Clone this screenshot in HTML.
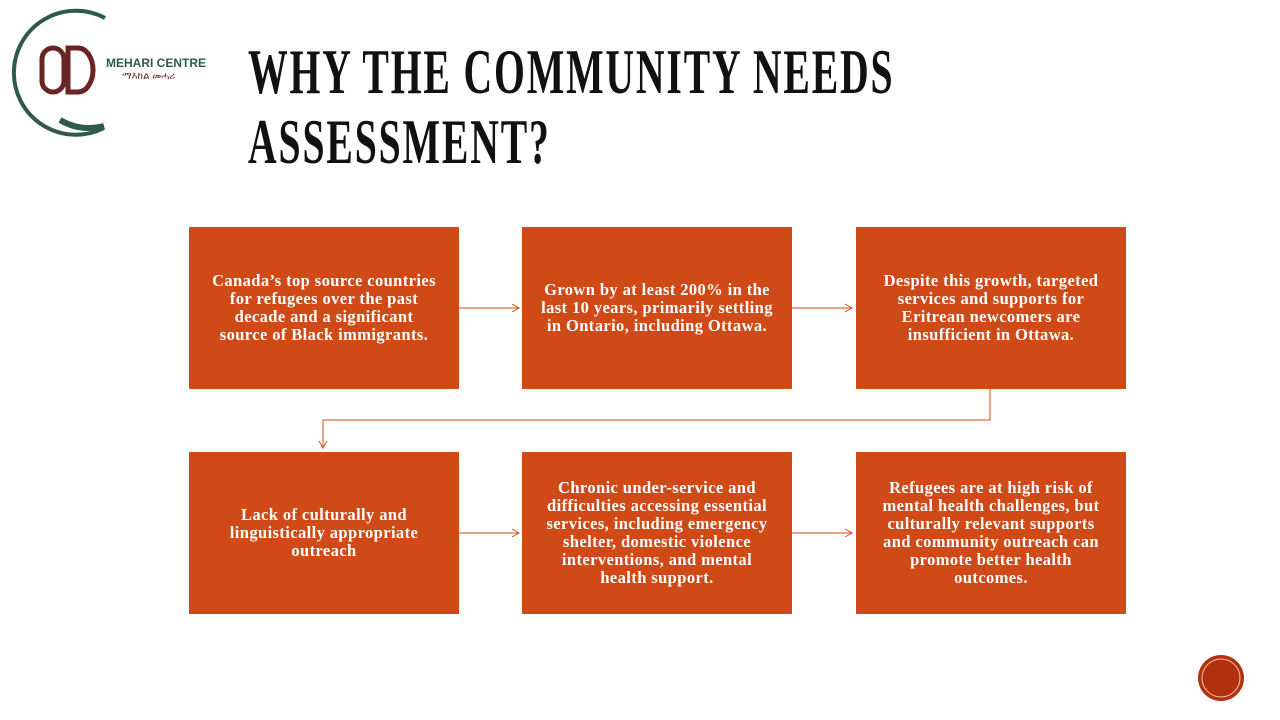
<!DOCTYPE html>
<html><head><meta charset="utf-8"><style>
body{margin:0;width:1280px;height:720px;background:#fff;position:relative;overflow:hidden;font-family:"Liberation Serif",serif}
.t{position:absolute;left:248px;font-family:"Liberation Serif",serif;font-weight:bold;font-size:64px;color:#111;letter-spacing:3px;transform:scaleX(0.62);transform-origin:left;line-height:1;white-space:nowrap}
.b{position:absolute;width:270px;height:162px;background:#D04A18;color:#fff;display:flex;align-items:center;justify-content:center;text-align:center;font-weight:bold;font-size:16.5px;line-height:18px;box-sizing:border-box;padding:0 14px;letter-spacing:0.4px}
</style></head><body>
<svg width="1280" height="720" style="position:absolute;left:0;top:0">
<path d="M105 18 A62 62 0 1 0 104 128" fill="none" stroke="#2f5a4a" stroke-width="4"/>
<path d="M60 120 Q80 132 104 126" fill="none" stroke="#2f5a4a" stroke-width="6"/>
<rect x="42" y="48" width="22" height="44" rx="11" fill="none" stroke="#6b2424" stroke-width="5"/>
<path d="M68 48 H78 A15 22 0 0 1 78 92 H68 Z" fill="none" stroke="#6b2424" stroke-width="5"/>
<g stroke="#D04A18" stroke-width="1" fill="none">
<line x1="459" y1="308" x2="518" y2="308"/><path d="M512 304 L519 308 L512 312"/>
<line x1="792" y1="308" x2="851" y2="308"/><path d="M845 304 L852 308 L845 312"/>
<line x1="459" y1="533" x2="518" y2="533"/><path d="M512 529 L519 533 L512 537"/>
<line x1="792" y1="533" x2="851" y2="533"/><path d="M845 529 L852 533 L845 537"/>
<path d="M990 389 V420 H323 V447"/><path d="M319 441 L323 448 L327 441"/>
</g>
<circle cx="1221" cy="678" r="23" fill="#B3300E"/>
<circle cx="1221" cy="678" r="19" fill="none" stroke="#f3c2b0" stroke-width="1"/>
</svg>
<div style="position:absolute;left:106px;top:56px;font-family:'Liberation Sans',sans-serif;font-size:12px;color:#2f5a4a;font-weight:bold">MEHARI CENTRE</div>
<div style="position:absolute;left:122px;top:71px;font-size:10px;color:#6b2424;font-family:'Liberation Sans',sans-serif">ማእከል መሓሪ</div>
<div class="t" style="top:40px">WHY THE COMMUNITY NEEDS</div>
<div class="t" style="top:110px">ASSESSMENT?</div>
<div class="b" style="left:189px;top:227px;padding:0 20px">Canada’s top source countries for refugees over the past decade and a significant source of Black immigrants.</div>
<div class="b" style="left:522px;top:227px">Grown by at least 200% in the last 10 years, primarily settling in Ontario, including Ottawa.</div>
<div class="b" style="left:856px;top:227px">Despite this growth, targeted services and supports for Eritrean newcomers are insufficient in Ottawa.</div>
<div class="b" style="left:189px;top:452px;padding:0 30px">Lack of culturally and linguistically appropriate outreach</div>
<div class="b" style="left:522px;top:452px;padding:0 20px">Chronic under-service and difficulties accessing essential services, including emergency shelter, domestic violence interventions, and mental health support.</div>
<div class="b" style="left:856px;top:452px;padding:0 22px">Refugees are at high risk of mental health challenges, but culturally relevant supports and community outreach can promote better health outcomes.</div>
</body></html>
